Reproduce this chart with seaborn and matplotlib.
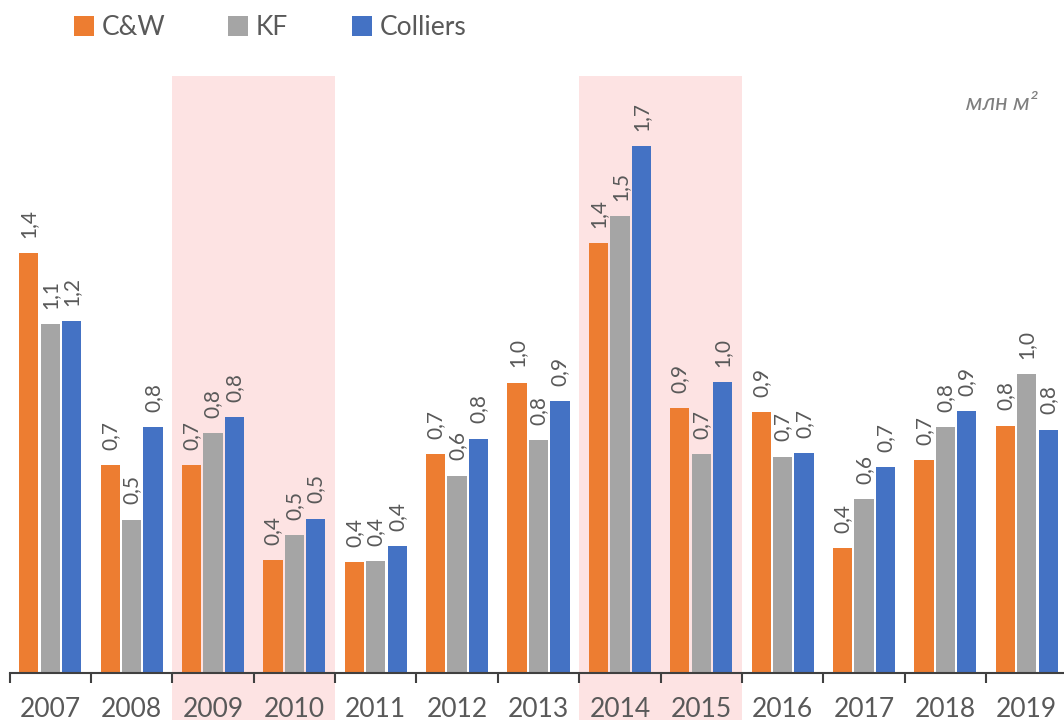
import pandas as pd
import seaborn as sns
import matplotlib.pyplot as plt
from matplotlib.patches import Rectangle, Patch
import matplotlib.transforms as mtransforms

# Data (mln sq. m)
years = ["2007", "2008", "2009", "2010", "2011", "2012", "2013",
         "2014", "2015", "2016", "2017", "2018", "2019"]
cw = [1.377, 0.681, 0.682, 0.370, 0.364, 0.718, 0.952,
      1.410, 0.869, 0.856, 0.410, 0.698, 0.811]
kf = [1.144, 0.503, 0.787, 0.452, 0.367, 0.647, 0.764,
      1.499, 0.718, 0.709, 0.570, 0.806, 0.980]
colliers = [1.154, 0.807, 0.839, 0.506, 0.417, 0.768, 0.892,
            1.728, 0.954, 0.720, 0.676, 0.859, 0.798]
series = ["C&W", "KF", "Colliers"]
crisis_spans = [("2009", "2010"), ("2014", "2015")]

colors = ["#ED7D31", "#A5A5A5", "#4472C4"]
text_color = "#595959"

df = pd.DataFrame({"Year": years * 3,
                   "Series": [s for s in series for _ in years],
                   "Value": cw + kf + colliers})

sns.set_theme(style="white")
plt.rcParams["font.family"] = ["Lato", "DejaVu Sans"]

fig = plt.figure(figsize=(10.64, 7.2), dpi=100)
# the plot area runs slightly past the right edge, as in the original
ax = fig.add_axes([9.5 / 1064, 47 / 720, 1058 / 1064, 597 / 720])

sns.barplot(data=df, x="Year", y="Value", hue="Series", palette=colors,
            saturation=1, width=0.79, gap=0.1, linewidth=0,
            ax=ax, legend=False, zorder=2)

for cont in ax.containers:
    labels = [f"{v:.1f}".replace(".", ",") for v in cont.datavalues]
    ax.bar_label(cont, labels=labels, rotation=90, padding=11,
                 fontsize=15, color=text_color)

# highlighted periods, running down through the tick labels
trans = mtransforms.blended_transform_factory(ax.transData, ax.transAxes)
for a, b in crisis_spans:
    x0 = years.index(a) - 0.5
    x1 = years.index(b) + 0.5
    ax.add_patch(Rectangle((x0, -0.1), x1 - x0, 1.1, transform=trans,
                           facecolor="#FDE3E3", edgecolor="none",
                           clip_on=False, zorder=0))

ax.set_xlim(-0.5, len(years) - 0.5)
ax.set_ylim(0, 597 / 305)
ax.set_yticks([])
ax.set_xlabel("")
ax.set_ylabel("")
for side in ["top", "right", "left"]:
    ax.spines[side].set_visible(False)
ax.spines["bottom"].set_color("#404040")
ax.spines["bottom"].set_linewidth(1.5)
ax.spines["bottom"].set_zorder(3)

ax.set_xticks(range(len(years)))
ax.set_xticklabels(years)
ax.set_xticks([i - 0.5 for i in range(len(years) + 1)], minor=True)
ax.tick_params(axis="x", which="major", length=0, pad=17,
               labelsize=19, labelcolor=text_color)
ax.tick_params(axis="x", which="minor", length=7, width=1.5,
               color="#404040", direction="out", bottom=True)

handles = [Patch(facecolor=c, edgecolor="none") for c in colors]
fig.legend(handles, series, loc="upper left", bbox_to_anchor=(50 / 1064, 1.012),
           ncol=3, frameon=False, fontsize=19, labelcolor=text_color,
           handlelength=0.75, handleheight=0.75, handletextpad=0.3,
           columnspacing=2.4)

fig.text(1038 / 1064, 1 - 103 / 720, "млн м²", ha="right", va="center",
         fontsize=17, style="italic", color="#7F7F7F")

fig.savefig("out.png", dpi=100)
